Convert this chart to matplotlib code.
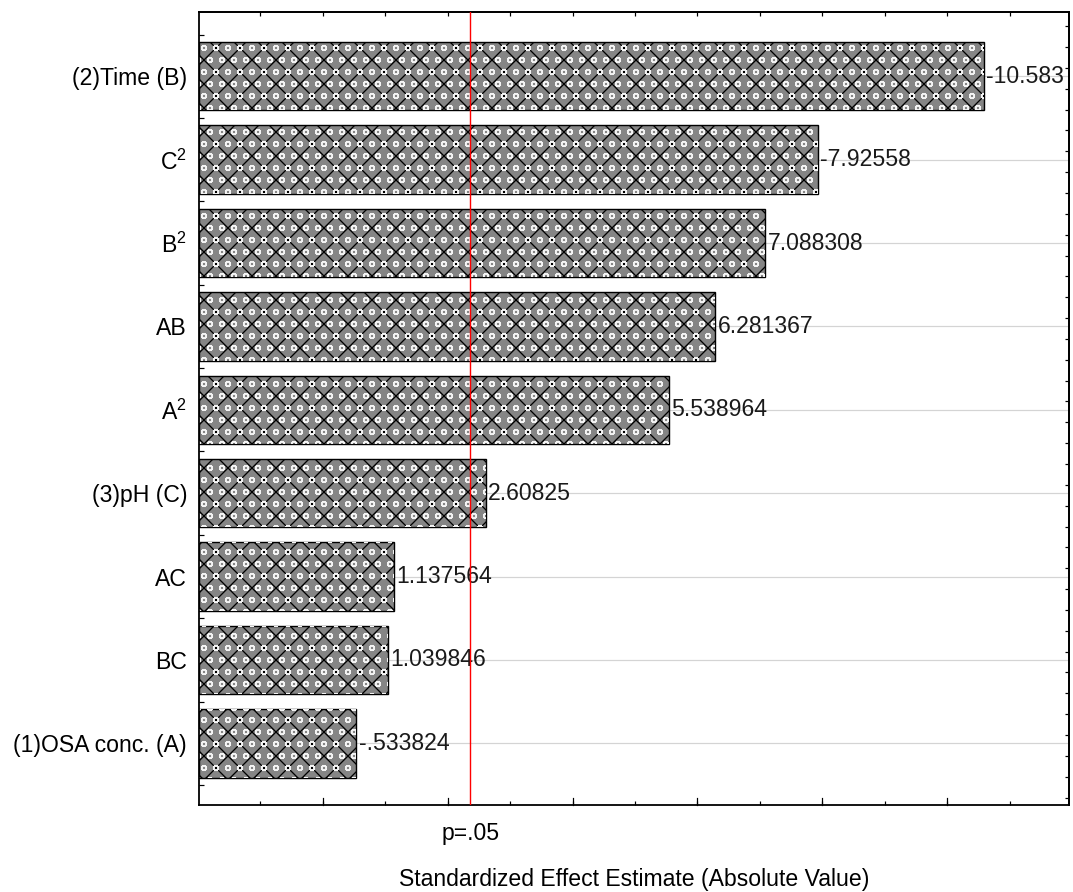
import numpy as np
import matplotlib
matplotlib.use("Agg")
import matplotlib.pyplot as plt

plt.rcParams['font.family'] = ['Liberation Sans', 'DejaVu Sans']
plt.rcParams['mathtext.fontset'] = 'custom'
plt.rcParams['mathtext.rm'] = 'Liberation Sans'
plt.rcParams['hatch.linewidth'] = 1.3

# Pareto chart of standardized effects (top to bottom)
terms = ['(2)Time (B)', r'$\mathregular{C^2}$', r'$\mathregular{B^2}$', 'AB',
         r'$\mathregular{A^2}$', '(3)pH (C)', 'AC', 'BC', '(1)OSA conc. (A)']
effects = [-10.583, -7.92558, 7.088308, 6.281367, 5.538964,
           2.60825, 1.137564, 1.039846, -0.533824]
p05 = 2.364624  # critical t at p=.05

FS = 23


def fmt(v):
    s = f"{v:.7g}"
    return s.replace('-0.', '-.').replace('0.', '.', 1) if abs(v) < 1 else s


# 72 dpi so that one point is one pixel
fig = plt.figure(figsize=(1073 / 72, 892 / 72), dpi=72)
ax = fig.add_axes([0.1855, 0.0975, 0.8108, 0.889])

x0, x1 = -1.98, 11.95
n = len(terms)
ypos = np.arange(n)[::-1]
vals = np.abs(effects)

for y in ypos:
    ax.axhline(y, color='#d4d4d4', lw=1.2, zorder=0)

# bars run from the left edge of the axis
ax.barh(ypos, vals - x0, height=0.82, left=x0, color='#858585',
        edgecolor='black', linewidth=1.4, hatch='x', zorder=2)
ax.barh(ypos, vals - x0, height=0.82, left=x0, color='none',
        edgecolor='#f4f4f4', linewidth=0, hatch='o', zorder=2.5)

for y, v, e in zip(ypos, vals, effects):
    ax.text(v + 0.04, y, fmt(e), va='center', ha='left', fontsize=FS,
            color='#1a1a1a', zorder=3)

ax.axvline(p05, color='red', lw=1.4, zorder=4)

ax.set_xlim(x0, x1)
ax.set_ylim(-0.74, n - 1 + 0.77)

ax.set_yticks(ypos)
ax.set_yticklabels(terms, fontsize=FS)
ax.set_yticks(np.arange(-0.5, n, 1.0), minor=True)
ax.tick_params(axis='y', which='major', length=0, pad=12)
ax.tick_params(axis='y', which='minor', direction='in', length=5, width=1.2)

ax.set_xticks([p05])
ax.set_xticklabels(['p=.05'], fontsize=FS)
ax.set_xticks(np.arange(-1, 12, 1), minor=True)
ax.tick_params(axis='x', which='major', length=0, pad=17)
ax.tick_params(axis='x', which='minor', direction='in', length=4, width=1.2)

# longer inner ticks at even values on the bottom axis
for xv in np.arange(0, 12, 2):
    ax.plot([xv, xv], [0, 0.009], transform=ax.get_xaxis_transform(),
            color='black', lw=1.2, clip_on=False, zorder=5)

top = ax.secondary_xaxis('top')
top.set_xticks(np.arange(-1, 12, 1))
top.tick_params(direction='in', length=4, width=1.2, labeltop=False)

right = ax.secondary_yaxis('right')
right.set_yticks(np.arange(-0.65, n, 0.25))
right.tick_params(direction='in', length=4, width=1.2, labelright=False)

ax.set_xlabel('Standardized Effect Estimate (Absolute Value)', fontsize=FS,
              labelpad=23)

for sp in ax.spines.values():
    sp.set_linewidth(1.8)
top.spines['top'].set_linewidth(1.8)
right.spines['right'].set_linewidth(1.8)

fig.savefig('out.png', dpi=72)
